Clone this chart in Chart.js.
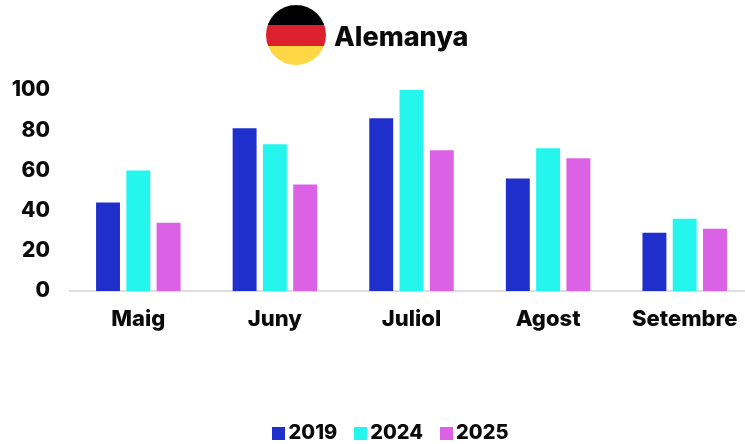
<!DOCTYPE html>
<html><head><meta charset="utf-8">
<style>
html,body{margin:0;padding:0;background:#fff;overflow:hidden;width:745px;height:444px}
#wrap{position:relative;width:745px;height:444px;overflow:hidden}
#box{position:absolute;left:0;top:0;width:753px;height:444px}
#flag{position:absolute;left:266px;top:5px;width:60px;height:60px;border-radius:50%;
background:linear-gradient(#000 0 20px,#dc202e 20px 41px,#ffd744 41px)}
#title{position:absolute;left:334px;top:20px;font:800 27px Inter,sans-serif;color:#0a0a0a;white-space:nowrap}
</style>
<script src="https://cdn.jsdelivr.net/npm/chart.js@4"></script>
</head><body>
<div id="wrap">
<div id="box"><canvas id="c"></canvas></div>
<div id="flag"></div><div id="title">Alemanya</div>
</div>
<script>
const categories = ['Maig','Juny','Juliol','Agost','Setembre'];
const values2019 = [44,81,86,56,29];
const values2024 = [60,73,100,71,36];
const values2025 = [34,53,70,66,31];
const seriesColors = ['#1f2fcb','#24f6ee','#dc62e5'];
const tickFont = {family:'Inter, sans-serif',weight:'800',size:21};
const xFont = {family:'Inter, sans-serif',weight:'800',size:22};
const legendFont = {family:'Inter, sans-serif',weight:'800',size:20};
const ink = '#0a0a0a';
function swatch(color){
  const k=document.createElement('canvas');k.width=13;k.height=13;
  const g=k.getContext('2d');g.fillStyle=color;g.fillRect(0,0,13,13);return k;
}
const legendShift = {id:'legendShift',afterLayout(ch){
  ch.legend.left+=11;ch.legend.right+=11;ch.legend.top+=13;ch.legend.bottom+=13;}};
new Chart(document.getElementById('c'),{
  type:'bar',
  data:{labels:categories,datasets:[
    {label:'2019',data:values2019,backgroundColor:seriesColors[0]},
    {label:'2024',data:values2024,backgroundColor:seriesColors[1]},
    {label:'2025',data:values2025,backgroundColor:seriesColors[2]}
  ]},
  plugins:[legendShift],
  options:{
    responsive:true,maintainAspectRatio:false,animation:false,
    layout:{padding:{top:90,left:12,right:0,bottom:4}},
    datasets:{bar:{barPercentage:0.79,categoryPercentage:0.665}},
    plugins:{
      title:{display:false},tooltip:{enabled:false},
      legend:{position:'bottom',labels:{usePointStyle:true,pointStyleWidth:0.01,padding:23,color:ink,font:legendFont,
        generateLabels(ch){return ch.data.datasets.map((d,i)=>({text:d.label,fontColor:ink,datasetIndex:i,
          pointStyle:swatch(seriesColors[i]),lineWidth:0,fillStyle:seriesColors[i],strokeStyle:seriesColors[i]}));}}}
    },
    scales:{
      x:{afterFit(s){s.height=96;},grid:{display:false,drawTicks:false},border:{display:true,color:'#dddddd',width:2},
        ticks:{color:ink,font:xFont,padding:15,maxRotation:0,autoSkip:false}},
      y:{afterFit(s){s.width=58;},min:0,max:100,grid:{display:false,drawTicks:false},border:{display:false},
        ticks:{stepSize:20,color:ink,font:tickFont,padding:20}}
    }
  }
});
</script>
</body></html>
